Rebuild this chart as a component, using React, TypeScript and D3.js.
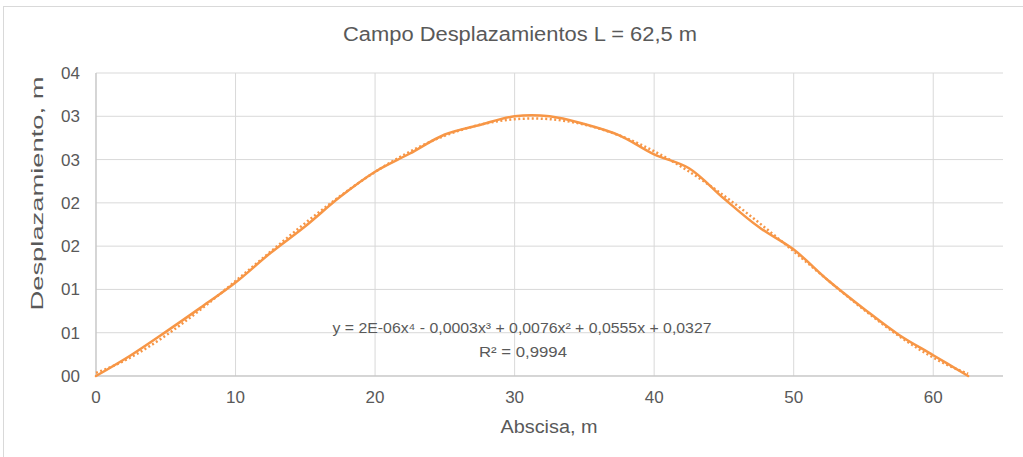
import * as d3 from "d3"

// Abscisa (m) and measured displacement (m)
const abscisa = [0, 2.5, 5, 7.5, 10, 12.5, 15, 17.5, 20, 22.5, 25, 27.5, 30, 32.5, 35, 37.5, 40, 42.5, 45, 47.5, 50, 52.5, 55, 57.5, 60, 62.5]
const desplazamiento = [0, 0.24, 0.51, 0.79, 1.08, 1.42, 1.73, 2.07, 2.36, 2.57, 2.79, 2.9, 3.0, 3.0, 2.91, 2.78, 2.56, 2.4, 2.05, 1.72, 1.46, 1.1, 0.78, 0.48, 0.24, 0]

const xTicks = [0, 10, 20, 30, 40, 50, 60]
const yTicks = [0, 0.5, 1, 1.5, 2, 2.5, 3, 3.5]
const yTickLabels = ["00", "01", "01", "02", "02", "03", "03", "04"]

const title = "Campo Desplazamientos L = 62,5 m"
const xTitle = "Abscisa, m"
const yTitle = "Desplazamiento, m"
const equation = "y = 2E-06x⁴ - 0,0003x³ + 0,0076x² + 0,0555x + 0,0327"
const r2 = "R² = 0,9994"

const W = 1023
const H = 457
const ORANGE = "#F79646"
const FONT = "'Liberation Sans', Arial, sans-serif"

// least squares polynomial (degree 4) for the trendline
function polyFit(xs: number[], ys: number[], deg: number, scale: number) {
  const n = deg + 1
  const A = Array.from({ length: n }, () => new Array(n + 1).fill(0))
  xs.forEach((xv, k) => {
    const t = xv / scale
    for (let i = 0; i < n; i++) {
      for (let j = 0; j < n; j++) A[i][j] += Math.pow(t, i + j)
      A[i][n] += ys[k] * Math.pow(t, i)
    }
  })
  for (let c = 0; c < n; c++) {
    let p = c
    for (let r = c + 1; r < n; r++) if (Math.abs(A[r][c]) > Math.abs(A[p][c])) p = r
    ;[A[c], A[p]] = [A[p], A[c]]
    for (let r = 0; r < n; r++) {
      if (r === c) continue
      const f = A[r][c] / A[c][c]
      for (let k = c; k <= n; k++) A[r][k] -= f * A[c][k]
    }
  }
  const coef = A.map((row, i) => row[n] / A[i][i])
  return (xv: number) => coef.reduce((s, a, i) => s + a * Math.pow(xv / scale, i), 0)
}

export default function App() {
  const margin = { top: 73, right: 20, bottom: 81, left: 96 }
  const x = d3.scaleLinear().domain([0, 65]).range([margin.left, 1003])
  const y = d3.scaleLinear().domain([0, 3.5]).range([H - margin.bottom, margin.top])

  const data = abscisa.map((a, i) => ({ x: a, y: desplazamiento[i] }))
  const line = d3
    .line<{ x: number; y: number }>()
    .x((d) => x(d.x))
    .y((d) => y(d.y))
    .curve(d3.curveCatmullRom.alpha(0.5))

  const fit = polyFit(abscisa, desplazamiento, 4, 62.5)
  const trend = d3.range(0, 62.5001, 0.5).map((v) => ({ x: v, y: fit(v) }))
  const trendLine = d3
    .line<{ x: number; y: number }>()
    .x((d) => x(d.x))
    .y((d) => y(d.y))

  const [x0, x1] = x.range()

  return (
    <svg width={W} height={H} style={{ position: "absolute", left: 0, top: 0, background: "#fff" }}>
      <rect x={3.5} y={6.5} width={W + 10} height={H + 10} fill="#fff" stroke="#d9d9d9" />

      {/* grid */}
      {yTicks.map((t) => (
        <line key={"gy" + t} x1={x0} x2={x1} y1={y(t)} y2={y(t)} stroke="#d9d9d9" strokeWidth={1} />
      ))}
      {xTicks.map((t) => (
        <line key={"gx" + t} x1={x(t)} x2={x(t)} y1={y(0)} y2={y(3.5)} stroke="#d9d9d9" strokeWidth={1} />
      ))}
      <line x1={x0} x2={x0} y1={y(0)} y2={y(3.5)} stroke="#bfbfbf" />
      <line x1={x0} x2={x1} y1={y(0)} y2={y(0)} stroke="#bfbfbf" />

      {/* tick labels */}
      {xTicks.map((t) => (
        <text key={"tx" + t} x={x(t)} y={y(0) + 27} textAnchor="middle" fontFamily={FONT} fontSize={17} fill="#595959">
          {t}
        </text>
      ))}
      {yTicks.map((t, i) => (
        <text key={"ty" + t} x={80} y={y(t) + 6} textAnchor="end" fontFamily={FONT} fontSize={17} fill="#595959">
          {yTickLabels[i]}
        </text>
      ))}

      {/* titles */}
      <text x={520} y={41} textAnchor="middle" fontFamily={FONT} fontSize={20} fill="#595959" textLength={354} lengthAdjust="spacingAndGlyphs">
        {title}
      </text>
      <text x={549} y={433} textAnchor="middle" fontFamily={FONT} fontSize={18} fill="#595959" textLength={97} lengthAdjust="spacingAndGlyphs">
        {xTitle}
      </text>
      <text
        transform={`translate(43,${(75 + 312) / 2}) rotate(-90)`}
        textAnchor="middle"
        fontFamily={FONT}
        fontSize={17}
        fill="#595959"
        textLength={234}
        lengthAdjust="spacingAndGlyphs"
      >
        {yTitle}
      </text>

      {/* trendline */}
      <path d={trendLine(trend) ?? ""} fill="none" stroke={ORANGE} strokeWidth={2.5} strokeDasharray="2 2.5" />
      {/* series */}
      <path d={line(data) ?? ""} fill="none" stroke={ORANGE} strokeWidth={2.5} strokeLinejoin="round" strokeLinecap="round" />

      {/* equation */}
      <text x={522} y={333} textAnchor="middle" fontFamily={FONT} fontSize={15} fill="#595959" textLength={379} lengthAdjust="spacingAndGlyphs">
        {equation}
      </text>
      <text x={523} y={357} textAnchor="middle" fontFamily={FONT} fontSize={15} fill="#595959" textLength={88} lengthAdjust="spacingAndGlyphs">
        {r2}
      </text>
    </svg>
  )
}
